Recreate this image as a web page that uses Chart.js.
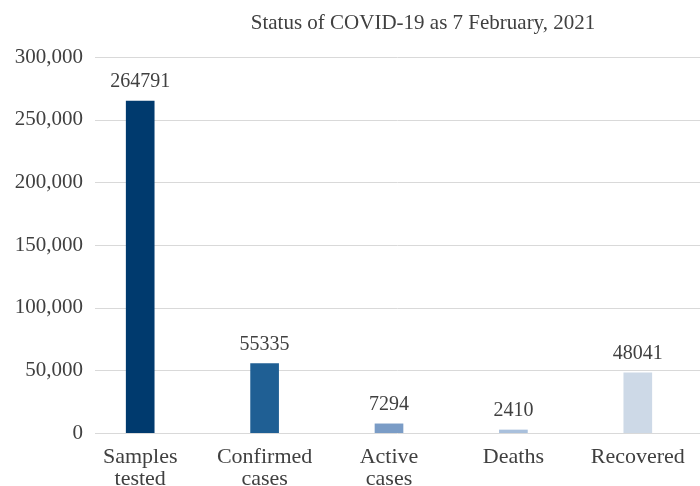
<!DOCTYPE html>
<html>
<head>
<meta charset="utf-8">
<script src="https://cdn.jsdelivr.net/npm/chart.js@4"></script>
<style>
  html, body { margin: 0; padding: 0; background: #fff; }
  #wrap { width: 700px; height: 486px; }
</style>
</head>
<body>
<div id="wrap"><canvas id="chart" width="700" height="486"></canvas></div>
<script>
// datos
const titulo = "Status of COVID-19 as 7 February, 2021";
const categorias = [["Samples", "tested"], ["Confirmed", "cases"], ["Active", "cases"], ["Deaths"], ["Recovered"]];
const valores = [264791, 55335, 7294, 2410, 48041];
const colores = ["#003a6e", "#1f5f94", "#7a9cc6", "#a9c0dc", "#cdd9e7"];
const ticksY = [0, 50000, 100000, 150000, 200000, 250000, 300000];

const FUENTE = "'Liberation Serif', serif";
const TEXTO = "#404040";

// el eje x arranca antes que el grid (como en el original)
const ejeXPlugin = {
  id: "ejeX",
  afterLayout(chart) {
    const x = chart.scales.x;
    x.left = 78;
    x.width = x.right - x.left;
    x.configure();
  }
};

// grid horizontal
const gridPlugin = {
  id: "gridY",
  beforeDatasetsDraw(chart) {
    const { ctx, chartArea, scales } = chart;
    ctx.save();
    ctx.strokeStyle = "#d9d9d9";
    ctx.lineWidth = 1;
    ticksY.forEach(v => {
      const y = Math.round(scales.y.getPixelForValue(v)) + 0.5;
      ctx.beginPath();
      ctx.moveTo(95, y);
      ctx.lineTo(chartArea.right, y);
      ctx.stroke();
    });
    ctx.restore();
  }
};

// etiquetas de valores + titulo
const etiquetasPlugin = {
  id: "etiquetas",
  afterDatasetsDraw(chart) {
    const { ctx } = chart;
    const meta = chart.getDatasetMeta(0);
    ctx.save();
    ctx.font = "20px " + FUENTE;
    ctx.fillStyle = TEXTO;
    ctx.textAlign = "center";
    ctx.textBaseline = "alphabetic";
    meta.data.forEach((bar, i) => {
      ctx.fillText(String(valores[i]), bar.x, bar.y - 14);
    });
    ctx.font = "21px " + FUENTE;
    ctx.textBaseline = "middle";
    ctx.fillText(titulo, 423, 23);
    ctx.restore();
  }
};

new Chart(document.getElementById("chart"), {
  type: "bar",
  data: {
    labels: categorias,
    datasets: [{
      data: valores,
      backgroundColor: colores,
      barThickness: 28
    }]
  },
  options: {
    responsive: false,
    animation: false,
    layout: { padding: { top: 57, left: 0, right: 0, bottom: 0 } },
    plugins: {
      legend: { display: false },
      title: { display: false },
      tooltip: { enabled: false }
    },
    scales: {
      x: {
        afterFit(scale) { scale.height = 53; },
        grid: { display: false, drawTicks: false },
        border: { display: false },
        ticks: {
          color: TEXTO,
          font: { family: FUENTE, size: 22, lineHeight: 1.0 },
          padding: 13,
          maxRotation: 0
        }
      },
      y: {
        min: 0,
        max: 300000,
        afterFit(scale) { scale.width = 83; },
        afterBuildTicks(scale) { scale.ticks = ticksY.map(v => ({ value: v })); },
        grid: { display: false, drawTicks: false },
        border: { display: false },
        ticks: {
          color: TEXTO,
          padding: 0,
          font: { family: FUENTE, size: 21 },
          callback: v => v.toLocaleString("en-US")
        }
      }
    }
  },
  plugins: [ejeXPlugin, gridPlugin, etiquetasPlugin]
});
</script>
</body>
</html>
